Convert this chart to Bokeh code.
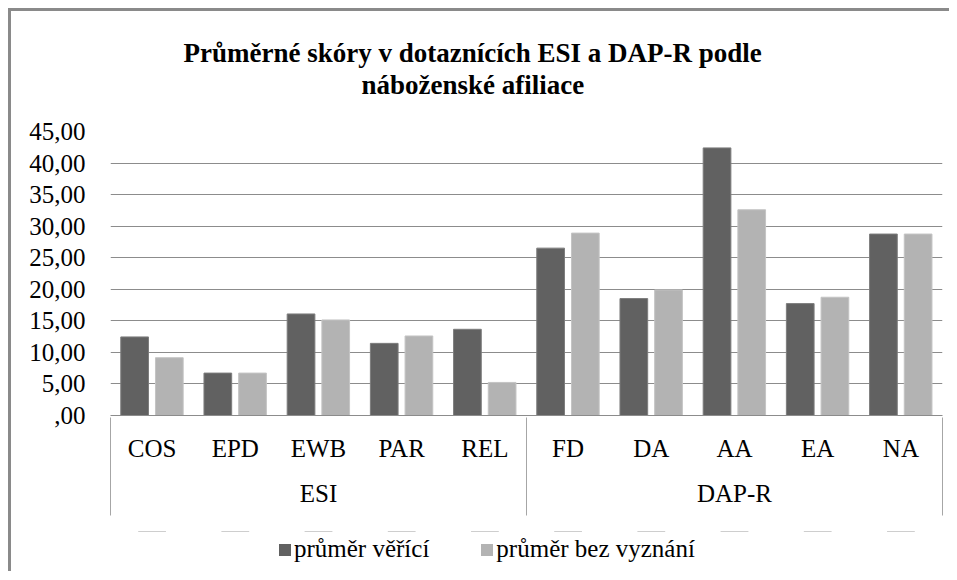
from bokeh.plotting import figure
from bokeh.layouts import column
from bokeh.models import (FactorRange, Range1d, CategoricalAxis, LinearAxis, FixedTicker,
                          ColumnDataSource, Legend, LegendItem, Title)
from bokeh.transform import dodge
from bokeh.embed import file_html
from bokeh.resources import INLINE

# ---------------- data ----------------
title_lines = ["Průměrné skóry v dotaznících ESI a DAP-R podle", "náboženské afiliace"]
categories = ["COS", "EPD", "EWB", "PAR", "REL", "FD", "DA", "AA", "EA", "NA"]
groups = ["ESI", "DAP-R"]
group_sizes = [5, 5]
believers = [12.45, 6.72, 16.09, 11.43, 13.66, 26.52, 18.53, 42.40, 17.73, 28.75]
nonreligious = [9.16, 6.72, 15.14, 12.60, 5.24, 28.90, 19.90, 32.60, 18.74, 28.75]
series_names = ["průměr věřící", "průměr bez vyznání"]
y_ticks = [0, 5, 10, 15, 20, 25, 30, 35, 40, 45]
y_tick_labels = [",00", "5,00", "10,00", "15,00", "20,00", "25,00", "30,00", "35,00", "40,00", "45,00"]

FONT = "Liberation Serif"
DARK = "#616161"
LIGHT = "#b3b3b3"
GRID = "#8c8c8c"

src = ColumnDataSource(dict(cat=categories, b=believers, n=nonreligious))

edges = [0]
for s in group_sizes:
    edges.append(edges[-1] + s)

p = figure(x_range=FactorRange(*categories), y_range=Range1d(0, 45),
           width=938, height=520, output_backend="svg", toolbar_location=None,
           min_border_left=99, min_border_right=7, min_border_top=120, min_border_bottom=116)
xa = p.below[0]
ya = p.left[0]

# spacer between the frame and the title lines (invisible white tick)
spacer = LinearAxis(ticker=FixedTicker(ticks=[edges[0]]))
spacer.axis_line_color = None
spacer.major_tick_line_color = "white"
spacer.minor_tick_line_color = None
spacer.major_tick_in = 0
spacer.major_tick_out = 32
spacer.major_label_text_color = None
spacer.major_label_text_font_size = "1px"
spacer.major_label_standoff = 0
p.add_layout(spacer, "above")

# two title lines, each placed on its own
t1 = Title(text=title_lines[0], align="left", offset=73, standoff=0)
t2 = Title(text=title_lines[1], align="left", offset=251, standoff=0)
for t in (t1, t2):
    t.text_font = FONT
    t.text_font_size = "27px"
    t.text_font_style = "bold"
    t.text_color = "black"
p.add_layout(t2, "above")
p.title = t1

p.outline_line_color = None
p.background_fill_color = "white"
p.border_fill_color = "white"
p.xgrid.grid_line_color = None
p.ygrid.grid_line_color = GRID
p.ygrid.grid_line_width = 1

# y axis
ya.ticker = FixedTicker(ticks=y_ticks)
ya.major_label_overrides = {t: l for t, l in zip(y_ticks, y_tick_labels)}
ya.axis_line_color = None
ya.major_tick_line_color = None
ya.minor_tick_line_color = None
ya.major_label_standoff = 19
ya.major_label_text_font = FONT
ya.major_label_text_font_size = "25px"
ya.major_label_text_color = "black"

# bars
r1 = p.vbar(x=dodge("cat", -0.21, range=p.x_range), top="b", width=0.333, source=src,
            fill_color=DARK, line_color="#7d7d7d", line_width=1)
r2 = p.vbar(x=dodge("cat", 0.207, range=p.x_range), top="n", width=0.333, source=src,
            fill_color=LIGHT, line_color="#c4c4c4", line_width=1)

# category axis
xa.axis_line_color = GRID
xa.axis_line_width = 1
xa.major_tick_line_color = None
xa.minor_tick_line_color = None
xa.major_label_standoff = 13
xa.major_label_text_font = FONT
xa.major_label_text_font_size = "25px"
xa.major_label_text_color = "black"

# group axis + separators
p.extra_x_ranges = {"groups": FactorRange(*groups)}
ga = CategoricalAxis(x_range_name="groups")
ga.axis_line_color = None
ga.major_tick_line_color = None
ga.minor_tick_line_color = None
ga.major_label_standoff = 9
ga.major_label_text_font = FONT
ga.major_label_text_font_size = "25px"
ga.major_label_text_color = "black"
p.add_layout(ga, "below")

ea = LinearAxis(ticker=FixedTicker(ticks=edges))
ea.axis_line_color = None
ea.minor_tick_line_color = None
ea.major_tick_line_color = "#a6a6a6"
ea.major_tick_line_width = 1
ea.major_tick_in = 92
ea.major_tick_out = 6
ea.major_label_text_color = None
ea.major_label_standoff = 0
p.add_layout(ea, "below")

# legend strip below the chart (same series, drawn out of view; only the legend shows)
p2 = figure(width=938, height=40, x_range=FactorRange(*categories), y_range=Range1d(-200, -199),
            output_backend="svg", toolbar_location=None, title=None,
            x_axis_location=None, y_axis_location=None,
            min_border_left=0, min_border_right=0, min_border_top=0, min_border_bottom=0)
p2.outline_line_color = None
p2.grid.visible = False
p2.background_fill_color = "white"
p2.border_fill_color = "white"
lr1 = p2.vbar(x="cat", top="b", width=0.333, source=src, fill_color=DARK, line_color=None)
lr2 = p2.vbar(x="cat", top="n", width=0.333, source=src, fill_color=LIGHT, line_color=None)

legend = Legend(items=[LegendItem(label=series_names[0], renderers=[lr1]),
                       LegendItem(label=series_names[1], renderers=[lr2])],
                location=(167, 8), orientation="horizontal")
legend.border_line_color = None
legend.background_fill_alpha = 0
legend.glyph_width = 15
legend.glyph_height = 15
legend.label_standoff = 2
legend.spacing = 50
legend.padding = 0
legend.margin = 0
legend.label_text_font = FONT
legend.label_text_font_size = "25px"
legend.label_text_color = "black"
p2.add_layout(legend)

layout = column(p, p2, spacing=0)
layout.styles = {"border-top": "3px solid #8a8a8a", "border-left": "3px solid #8a8a8a",
                 "margin-left": "8px", "margin-top": "8px"}

open("out.html", "w").write(file_html(layout, INLINE))
